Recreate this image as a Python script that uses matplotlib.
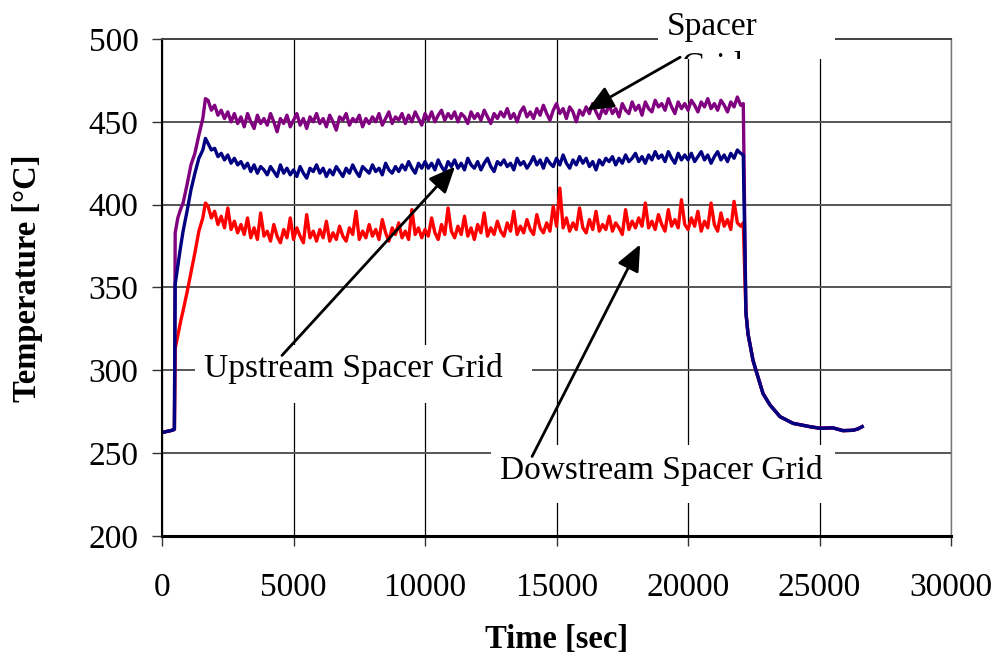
import numpy as np
import matplotlib
matplotlib.use("Agg")
import matplotlib.pyplot as plt
from matplotlib.patches import Rectangle

plt.rcParams['font.family'] = ['Liberation Serif', 'DejaVu Serif']

# heat-up part (sec) and values
ramp_t = [0, 150, 300, 420, 470, 500, 600, 700, 800, 950, 1100, 1250, 1400, 1550, 1650]
ramp_purple = [262.5, 263, 263.5, 264, 264.5, 383, 392, 397, 401, 412, 424, 431, 442, 452, 464]
ramp_navy = [262.5, 263, 263.5, 264, 264.5, 352, 363, 374, 384, 396, 409, 419, 428, 433, 440]
ramp_red = [262.5, 263, 263.5, 264, 264.5, 313, 321, 329, 336, 347, 359, 371, 384, 392, 401]

# plateau, one reading every 125 sec from 1750 to 22000
plat_t = np.arange(1750, 22001, 125)
plat_purple = [463, 457,
    460, 454, 457, 452, 456, 450, 455, 449,
    453, 447, 455, 450, 446, 454, 449, 452,
    448, 455, 450, 444, 452, 449, 454, 447,
    451, 455, 448, 452, 446, 453, 450, 455,
    449, 452, 447, 454, 450, 445, 453, 451,
    455, 448, 452, 450, 454, 447, 452, 449,
    453, 450, 455, 448, 452, 456, 449, 453,
    451, 455, 449, 454, 450, 456, 452, 448,
    455, 451, 456, 450, 454, 457, 451, 455,
    452, 456, 450, 455, 453, 449, 456, 452,
    455, 451, 457, 453, 449, 455, 452, 456,
    453, 458, 452, 455, 450, 456, 459, 453,
    456, 452, 458, 454, 460, 455, 451, 457,
    461, 455, 458, 452, 459, 456, 450, 457,
    454, 459, 455, 461, 456, 452, 458, 455,
    460, 455, 458, 453, 461, 457, 455, 462,
    457, 460, 454, 462, 458, 456, 463, 459,
    461, 457, 464, 459, 455, 462, 458, 461,
    457, 463, 460, 456, 462, 459, 464, 458,
    461, 457, 463, 460, 456, 462, 459, 465,
    460]
plat_navy = [437, 433,
    434, 429, 431, 427, 430, 425, 428, 424,
    426, 422, 425, 420, 424, 419, 423, 421,
    418, 423, 420, 417, 424, 419, 422, 418,
    421, 417, 423, 419, 416, 422, 420, 424,
    419, 422, 417, 421, 418, 423, 420, 417,
    422, 419, 424, 420, 417, 423, 421, 419,
    424, 420, 422, 418, 425, 421, 419, 423,
    420, 424, 421, 426, 422, 419, 425, 422,
    426, 422, 425, 421, 427, 423, 420, 426,
    423, 427, 422, 425, 421, 428, 424, 422,
    426, 421, 425, 428, 423, 420, 426, 424,
    427, 423, 425, 421, 428, 424, 426, 422,
    425, 429, 424, 427, 422, 428, 425, 423,
    428, 424, 430, 425, 422, 427, 424, 429,
    425, 428, 423, 426, 421, 427, 424, 428,
    426, 429, 424, 428, 425, 430, 426, 428,
    431, 426, 429, 425, 430, 427, 432, 428,
    430, 426, 432, 428, 425, 431, 427, 430,
    427, 431, 426, 429, 432, 427, 430, 425,
    429, 432, 427, 430, 426, 431, 428, 433,
    431]
plat_red = [399, 392,
    396, 388, 393, 386, 398, 385, 390, 383,
    388, 382, 392, 380, 386, 379, 395, 381,
    384, 378, 388, 381, 377, 385, 380, 392,
    379, 386, 381, 377, 394, 380, 384, 378,
    385, 380, 390, 378, 383, 379, 387, 381,
    378, 386, 382, 396, 379, 384, 380, 388,
    381, 385, 379, 391, 383, 378, 386, 382,
    389, 380, 384, 379, 397, 382, 386, 380,
    385, 381, 392, 383, 379, 388, 382, 398,
    384, 380, 387, 382, 393, 381, 386, 379,
    388, 383, 395, 381, 386, 382, 390, 384,
    381, 389, 384, 396, 382, 387, 383, 391,
    385, 382, 394, 386, 383, 389, 384, 399,
    387, 410, 386, 392, 384, 389, 385, 398,
    386, 383, 391, 385, 396, 384, 388, 385,
    393, 384, 389, 386, 382, 397, 385, 390,
    386, 392, 387, 401, 386, 390, 385, 394,
    388, 384, 397, 387, 391, 386, 403, 388,
    385, 392, 387, 396, 384, 390, 386, 401,
    388, 384, 395, 387, 391, 385, 402, 389,
    387]

# shut-down: last reading before the drop, then common cool-down curve
drop_t = 22100
drop_purple, drop_navy, drop_red = 461, 430, 389
cool_t = [22200, 22280, 22470, 22620, 22850, 23120, 23500, 23990, 24630, 25020, 25500, 25890, 26270, 26450, 26620]
cool_v = [335, 322, 306, 298, 286, 279, 272, 268, 266, 265, 265.3, 263.6, 263.8, 264.6, 266]


def series(ramp, plat, drop):
    t = np.concatenate([ramp_t, plat_t, [drop_t], cool_t])
    v = np.concatenate([ramp, plat, [drop], cool_v])
    return t, v


fig = plt.figure(figsize=(9.99, 6.6), dpi=100)
ax = fig.add_axes([0.1622, 0.1879, 0.7898, 0.7530])

for ramp, plat, drop, col in [(ramp_red, plat_red, drop_red, '#ff0000'),
                              (ramp_purple, plat_purple, drop_purple, '#800080'),
                              (ramp_navy, plat_navy, drop_navy, '#000080')]:
    t, v = series(ramp, plat, drop)
    ax.plot(t, v, '-', color=col, lw=2.4, zorder=2)

ax.set_xlim(0, 30000)
ax.set_ylim(200, 500)
ax.set_xticks(np.arange(0, 30001, 5000))
ax.set_yticks(np.arange(200, 501, 50))
ax.tick_params(axis='both', direction='out', length=7, width=1, labelsize=24, color='#333333')
ax.tick_params(axis='y', pad=10)
ax.tick_params(axis='x', pad=19)

ax.yaxis.grid(True, color='#555555', lw=1.4, zorder=1)
ax.xaxis.grid(True, color='black', lw=0.9, zorder=1)
ax.set_axisbelow(True)
ax.spines['left'].set_linewidth(1.5)
ax.spines['bottom'].set_linewidth(2.2)
ax.spines['top'].set_color('#444444')
ax.spines['top'].set_linewidth(1.4)
ax.spines['right'].set_color('#777777')
ax.spines['right'].set_linewidth(1.0)

fig.text(557 / 999, 1 - 640 / 660, 'Time [sec]', ha='center', va='center',
         fontsize=23.5, fontweight='bold')
fig.text(28 / 999, 1 - 278 / 660, 'Temperature [°C]', ha='center', va='center',
         rotation=90, fontsize=23.5, fontweight='bold')

# label boxes (white, hide the grid)
ax.add_patch(Rectangle((1255, 280.3), 12815, 35.0, facecolor='white', edgecolor='none', zorder=3))
ax.add_patch(Rectangle((12510, 220.0), 13080, 35.0, facecolor='white', edgecolor='none', zorder=3))
ax.add_patch(Rectangle((18860, 487.9), 6730, 27.0, facecolor='white', edgecolor='none',
                       zorder=3, clip_on=False))

ax.text(7260, 301.4, 'Upstream Spacer Grid', ha='center', va='center', fontsize=24, zorder=5)
ax.text(18970, 239.8, 'Dowstream Spacer Grid', ha='center', va='center', fontsize=24, zorder=5)
ax.text(20910, 507.5, 'Spacer', ha='center', va='center', fontsize=24, zorder=5, clip_on=False)
# second line of the top label is cut off by its box in the original
grid_txt = ax.text(20910, 483.5, 'Grid', ha='center', va='center', fontsize=24, zorder=5)
clip = Rectangle((18860, 487.9), 6730, 30.0, transform=ax.transData)
grid_txt.set_clip_on(True)
grid_txt.set_clip_path(clip)

arr = dict(arrowstyle='-|>,head_length=0.8,head_width=0.35', color='black', lw=2,
           mutation_scale=20, shrinkA=0, shrinkB=0)
ax.annotate('', xy=(16160, 457), xytext=(19700, 489), arrowprops=arr, zorder=6,
            annotation_clip=False)
ax.annotate('', xy=(11140, 423), xytext=(4560, 309), arrowprops=arr, zorder=6)
ax.annotate('', xy=(18180, 376), xytext=(14070, 248), arrowprops=arr, zorder=6)

plt.savefig('out.png', dpi=100)
